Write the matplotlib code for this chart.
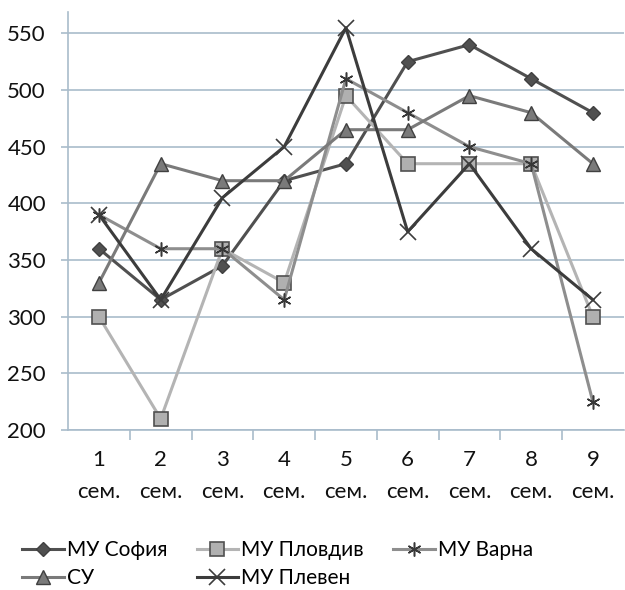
import matplotlib
matplotlib.use("Agg")
import matplotlib.pyplot as plt

plt.rcParams['font.family'] = ['Lato', 'DejaVu Sans']

categories = [f"{i}\nсем." for i in range(1, 10)]
sofia = [360, 315, 345, 420, 435, 525, 540, 510, 480]
plovdiv = [300, 210, 360, 330, 495, 435, 435, 435, 300]
varna = [390, 360, 360, 315, 510, 480, 450, 435, 225]
su = [330, 435, 420, 420, 465, 465, 495, 480, 435]
pleven = [390, 315, 405, 450, 555, 375, 435, 360, 315]
y_ticks = [200, 250, 300, 350, 400, 450, 500, 550]

fig = plt.figure(figsize=(6.25, 5.9), dpi=100)
ax = fig.add_axes([0.109, 0.271, 0.889, 0.709])

x = list(range(len(categories)))
grid_col = "#a9bccb"

h_sofia, = ax.plot(x, sofia, color="#505050", lw=2.2, marker="D", ms=7,
                   mfc="#505050", mec="#404040", label="МУ София", zorder=3)
h_plov, = ax.plot(x, plovdiv, color="#b4b4b4", lw=2.2, marker="s", ms=10,
                  mfc="#b0b0b0", mec="#505050", mew=1.2, label="МУ Пловдив", zorder=3)
h_varna, = ax.plot(x, varna, color="#8e8e8e", lw=2.2, marker=(6, 2, 0), ms=10,
                   mec="#383838", mew=1.1, label="МУ Варна", zorder=3)
h_su, = ax.plot(x, su, color="#7a7a7a", lw=2.2, marker="^", ms=10,
                mfc="#7a7a7a", mec="#404040", label="СУ", zorder=3)
h_pleven, = ax.plot(x, pleven, color="#3c3c3c", lw=2.2, marker="x", ms=11,
                    mec="#3c3c3c", mew=1.2, label="МУ Плевен", zorder=3)

ax.set_xlim(-0.5, len(categories) - 0.5)
ax.set_ylim(200, 569)
ax.set_yticks(y_ticks)
ax.set_xticks(x)
ax.set_xticklabels(categories)
ax.set_xticks([i + 0.5 for i in range(len(categories) - 1)], minor=True)
ax.grid(axis="y", color=grid_col, lw=1.2, zorder=0)

for side in ("top", "right"):
    ax.spines[side].set_visible(False)
for side in ("left", "bottom"):
    ax.spines[side].set_color(grid_col)
    ax.spines[side].set_linewidth(1.2)

ax.tick_params(axis="y", length=5, color=grid_col, width=1.2, labelsize=16,
               labelcolor="#111111", pad=11)
ax.tick_params(axis="x", which="major", length=0, labelsize=16,
               labelcolor="#111111", pad=14)
ax.tick_params(axis="x", which="minor", length=7, color=grid_col, width=1.2)
for lbl in ax.get_xticklabels():
    lbl.set_linespacing(1.75)

handles = [h_sofia, h_su, h_plov, h_pleven, h_varna]
fig.legend(handles=handles, labels=[h.get_label() for h in handles],
           loc="center left", bbox_to_anchor=(0.012, 0.044), ncol=3,
           frameon=False, fontsize=15, handlelength=2.0, columnspacing=1.4,
           labelspacing=0.4, handletextpad=0.15, borderpad=0.2)

fig.savefig("out.png", dpi=100)
